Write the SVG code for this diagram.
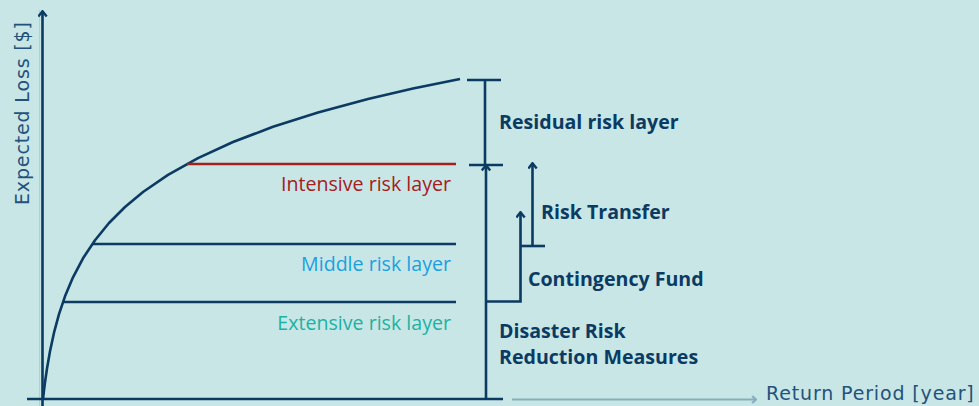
<svg xmlns="http://www.w3.org/2000/svg" width="979" height="406" viewBox="0 0 979 406">
<defs>
<style>
.nv{stroke:#0B3A62;stroke-width:2.6;fill:none;stroke-linecap:butt}
.lbl{font-family:"Open Sans","Liberation Sans",sans-serif;font-size:19.6px;text-anchor:end}
.bold{font-family:"Open Sans","Liberation Sans",sans-serif;font-size:19.6px;font-weight:bold;fill:#0B3A62}
.ax{font-family:"DejaVu Sans","Liberation Sans",sans-serif;font-size:19px;letter-spacing:0.85px;fill:#24527A}
</style>
<marker id="ah" viewBox="0 0 10 10" refX="8" refY="5" markerWidth="10" markerHeight="10" markerUnits="userSpaceOnUse" orient="auto">
<path d="M3.5,0.8 L8.8,5 L3.5,9.2" fill="none" stroke="#0B3A62" stroke-width="2.4"/>
</marker>
<marker id="ahl" viewBox="0 0 10 10" refX="8.8" refY="5" markerWidth="10" markerHeight="10" markerUnits="userSpaceOnUse" orient="auto">
<path d="M5,1.5 L8.8,5 L5,8.5" fill="none" stroke="#86ADBF" stroke-width="2.2"/>
</marker>
</defs>
<rect width="979" height="406" fill="#C8E6E6"/>
<g id="axes">
<line x1="39.5" y1="10" x2="39.5" y2="406" stroke="#A6D6D2" stroke-width="1"/>
<line class="nv" x1="42.5" y1="406" x2="42.5" y2="12" marker-end="url(#ah)"/>
<line class="nv" x1="27" y1="399" x2="503" y2="399"/>
<line x1="512" y1="399.5" x2="756" y2="399.5" stroke="#86ADBF" stroke-width="2.2" marker-end="url(#ahl)"/>
<text class="ax" x="766" y="400">Return Period [year]</text>
<text class="ax" transform="translate(29,205) rotate(-90)">Expected Loss [$]</text>
</g>
<g id="curve">
<polyline class="nv" stroke-linejoin="round" points="43,399 44,390.3 45,382.3 47,368.5 50,351.2 54,332.7 59,314.2 65,296.3 73,277.3 83,258.3 95,240.2 109,223 125,207 143,192 168,174.9 198,158.1 233,142 273,126.8 318,112.5 368,99 413,88.6 460,78.9"/>
</g>
<g id="layers">
<line x1="187" y1="164" x2="456" y2="164" stroke="#A3201F" stroke-width="2.6"/>
<line class="nv" x1="93" y1="244" x2="456" y2="244"/>
<line class="nv" x1="63" y1="302" x2="456" y2="302"/>
<text class="lbl" x="451" y="191" fill="#A3201F">Intensive risk layer</text>
<text class="lbl" x="451" y="271" fill="#1AA0E0">Middle risk layer</text>
<text class="lbl" x="451" y="330" fill="#1BB2A3">Extensive risk layer</text>
</g>
<g id="residual">
<line class="nv" x1="467" y1="80" x2="501" y2="80"/>
<line class="nv" x1="485" y1="80" x2="485" y2="165"/>
<line class="nv" x1="469" y1="165" x2="503" y2="165"/>
<text class="bold" x="499" y="129">Residual risk layer</text>
</g>
<g id="drr">
<line class="nv" x1="486" y1="399" x2="486" y2="166" marker-end="url(#ah)"/>
<text class="bold" x="499" y="338">Disaster Risk</text>
<text class="bold" x="499" y="364">Reduction Measures</text>
</g>
<g id="contingency">
<polyline class="nv" points="486,301.5 520.5,301.5 520.5,213" marker-end="url(#ah)"/>
<text class="bold" x="528" y="286">Contingency Fund</text>
</g>
<g id="transfer">
<line class="nv" x1="520" y1="246" x2="545" y2="246"/>
<line class="nv" x1="532.5" y1="246" x2="532.5" y2="164" marker-end="url(#ah)"/>
<text class="bold" x="541" y="219">Risk Transfer</text>
</g>
</svg>
